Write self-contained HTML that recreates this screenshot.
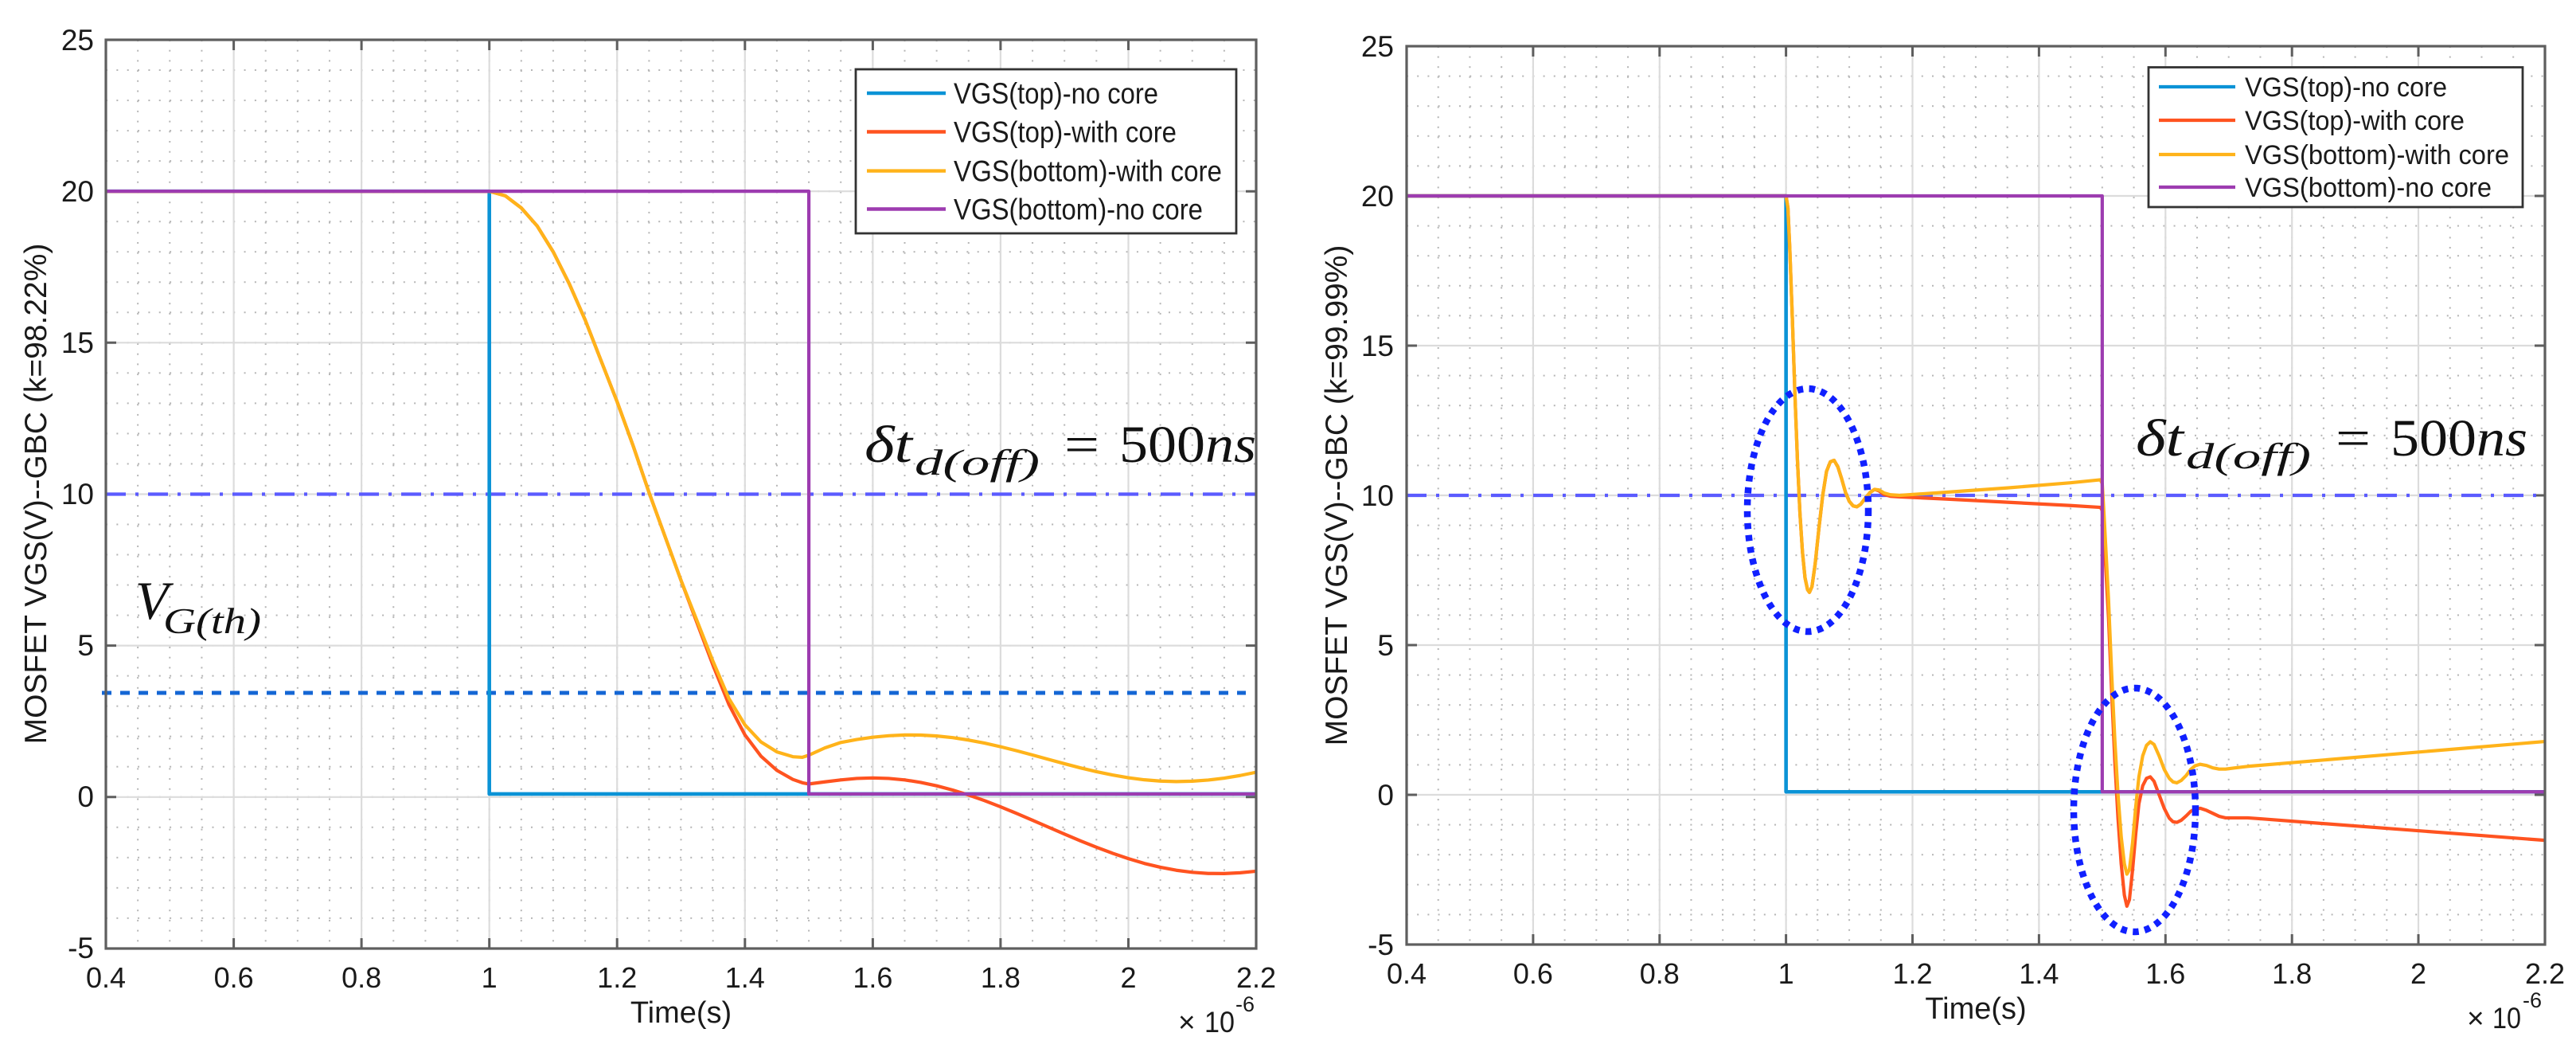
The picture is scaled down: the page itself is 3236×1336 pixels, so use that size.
<!DOCTYPE html>
<html><head><meta charset="utf-8"><style>
html,body{margin:0;padding:0;background:#fff;}
svg{display:block;}
text{font-family:"Liberation Sans",Arial,sans-serif;fill:#1a1a1a;}
.ser{font-family:"Liberation Serif","Times New Roman",serif;fill:#111;}
</style></head><body>
<svg width="3236" height="1336" viewBox="0 0 3236 1336" xmlns="http://www.w3.org/2000/svg">
<defs>
<pattern id="lv" x="132" y="50" width="40.14" height="12.7" patternUnits="userSpaceOnUse"><rect x="0" y="0" width="2" height="2" fill="#b5b5b5"/></pattern>
<pattern id="lh" x="133" y="49" width="13.35" height="38.03" patternUnits="userSpaceOnUse"><rect x="0" y="0" width="2" height="2" fill="#b5b5b5"/></pattern>
<pattern id="rv" x="1766" y="58" width="39.72" height="12.6" patternUnits="userSpaceOnUse"><rect x="0" y="0" width="2" height="2" fill="#b5b5b5"/></pattern>
<pattern id="rh" x="1767" y="57" width="13.2" height="37.6" patternUnits="userSpaceOnUse"><rect x="0" y="0" width="2" height="2" fill="#b5b5b5"/></pattern>
<clipPath id="cl"><rect x="133" y="50" width="1445" height="1141"/></clipPath>
<clipPath id="cr"><rect x="1767" y="58" width="1430" height="1128"/></clipPath>
</defs>
<rect width="3236" height="1336" fill="#fff"/>

<!-- ============ LEFT PLOT ============ -->
<rect x="133" y="50" width="1445" height="1141" fill="url(#lv)"/>
<rect x="133" y="50" width="1445" height="1141" fill="url(#lh)"/>
<g stroke="#dcdcdc" stroke-width="2.2">
<line x1="293.6" y1="50" x2="293.6" y2="1191"/><line x1="454.1" y1="50" x2="454.1" y2="1191"/><line x1="614.7" y1="50" x2="614.7" y2="1191"/><line x1="775.2" y1="50" x2="775.2" y2="1191"/><line x1="935.8" y1="50" x2="935.8" y2="1191"/><line x1="1096.4" y1="50" x2="1096.4" y2="1191"/><line x1="1256.9" y1="50" x2="1256.9" y2="1191"/><line x1="1417.5" y1="50" x2="1417.5" y2="1191"/>
<line x1="133" y1="240.2" x2="1578" y2="240.2"/><line x1="133" y1="430.3" x2="1578" y2="430.3"/><line x1="133" y1="620.5" x2="1578" y2="620.5"/><line x1="133" y1="810.6" x2="1578" y2="810.6"/><line x1="133" y1="1000.8" x2="1578" y2="1000.8"/>
</g>
<g stroke="#5e5e5e" stroke-width="3">
<path d="M293.6,50v13M454.1,50v13M614.7,50v13M775.2,50v13M935.8,50v13M1096.4,50v13M1256.9,50v13M1417.5,50v13"/>
<path d="M293.6,1191v-13M454.1,1191v-13M614.7,1191v-13M775.2,1191v-13M935.8,1191v-13M1096.4,1191v-13M1256.9,1191v-13M1417.5,1191v-13"/>
<path d="M133,240.2h13M133,430.3h13M133,620.5h13M133,810.6h13M133,1000.8h13"/>
<path d="M1578,240.2h-13M1578,430.3h-13M1578,620.5h-13M1578,810.6h-13M1578,1000.8h-13"/>
</g>
<line x1="133" y1="620.5" x2="1578" y2="620.5" stroke="#5b5bff" stroke-width="4.2" stroke-dasharray="25 12 4 12"/>
<line x1="128" y1="870" x2="1565" y2="870" stroke="#1466d4" stroke-width="5" stroke-dasharray="12 11"/>
<g clip-path="url(#cl)">
<g transform="matrix(802.8 0 0 -38.03 -188.12 1000.75)" fill="none" stroke-linejoin="round" stroke-linecap="round">
<polyline vector-effect="non-scaling-stroke" stroke="#0b93d6" stroke-width="4.6" points="0.4,20 1,20 1,0.1 2.2,0.1"/>
<polyline vector-effect="non-scaling-stroke" stroke="#ff5320" stroke-width="4.2" points="0.4,20 1,20 1.025,19.85 1.05,19.45 1.075,18.85 1.1,18 1.125,16.95 1.15,15.75 1.175,14.4 1.2,13.05 1.225,11.6 1.25,10.05 1.275,8.6 1.3,7.15 1.325,5.75 1.35,4.35 1.375,3.05 1.4,2.05 1.425,1.35 1.45,0.88 1.475,0.58 1.49,0.47 1.5,0.43 1.525,0.5 1.55,0.564 1.575,0.613 1.6,0.63 1.625,0.613 1.65,0.564 1.675,0.482 1.7,0.37 1.725,0.23 1.75,0.066 1.775,-0.12 1.8,-0.324 1.825,-0.541 1.85,-0.767 1.875,-0.996 1.9,-1.224 1.925,-1.447 1.95,-1.659 1.975,-1.856 2,-2.034 2.025,-2.193 2.05,-2.318 2.075,-2.419 2.1,-2.487 2.125,-2.524 2.15,-2.527 2.175,-2.501 2.2,-2.45"/>
<polyline vector-effect="non-scaling-stroke" stroke="#ffb31a" stroke-width="4.2" points="0.4,20 1,20 1.025,19.85 1.05,19.45 1.075,18.85 1.1,18 1.125,16.95 1.15,15.75 1.175,14.4 1.2,13.05 1.225,11.6 1.25,10.05 1.275,8.6 1.3,7.15 1.325,5.82 1.35,4.48 1.375,3.25 1.4,2.38 1.425,1.82 1.45,1.49 1.475,1.33 1.49,1.31 1.5,1.38 1.525,1.62 1.55,1.8 1.575,1.897 1.6,1.973 1.625,2.023 1.65,2.048 1.675,2.045 1.7,2.015 1.725,1.96 1.75,1.88 1.775,1.779 1.8,1.66 1.825,1.528 1.85,1.387 1.875,1.242 1.9,1.099 1.925,0.962 1.95,0.836 1.975,0.727 2,0.637 2.025,0.568 2.05,0.526 2.075,0.51 2.1,0.522 2.125,0.56 2.15,0.623 2.175,0.71 2.2,0.818"/>
<polyline vector-effect="non-scaling-stroke" stroke="#9d3cb0" stroke-width="4.2" points="0.4,20 1.5,20 1.5,0.1 2.2,0.1"/>
</g>
</g>
<rect x="133" y="50" width="1445" height="1141" fill="none" stroke="#5e5e5e" stroke-width="3.2"/>
<rect x="1075" y="87" width="478" height="206" fill="#fff" stroke="#333" stroke-width="2.8"/>
<g stroke-width="4.4">
<line x1="1089" y1="117" x2="1188" y2="117" stroke="#0b93d6"/>
<line x1="1089" y1="165.5" x2="1188" y2="165.5" stroke="#ff5320"/>
<line x1="1089" y1="214.6" x2="1188" y2="214.6" stroke="#ffb31a"/>
<line x1="1089" y1="262.5" x2="1188" y2="262.5" stroke="#9d3cb0"/>
</g>
<g font-size="37">
<text x="1198" y="130" textLength="257" lengthAdjust="spacingAndGlyphs">VGS(top)-no core</text>
<text x="1198" y="178.5" textLength="280" lengthAdjust="spacingAndGlyphs">VGS(top)-with core</text>
<text x="1198" y="227.5" textLength="337" lengthAdjust="spacingAndGlyphs">VGS(bottom)-with core</text>
<text x="1198" y="275.5" textLength="313" lengthAdjust="spacingAndGlyphs">VGS(bottom)-no core</text>
</g>
<g font-size="37" text-anchor="end">
<text x="118" y="63">25</text><text x="118" y="253">20</text><text x="118" y="443">15</text><text x="118" y="633">10</text><text x="118" y="823">5</text><text x="118" y="1013">0</text><text x="118" y="1203">-5</text>
</g>
<g font-size="36" text-anchor="middle">
<text x="133" y="1240">0.4</text><text x="293.6" y="1240">0.6</text><text x="454.1" y="1240">0.8</text><text x="614.7" y="1240">1</text><text x="775.2" y="1240">1.2</text><text x="935.8" y="1240">1.4</text><text x="1096.4" y="1240">1.6</text><text x="1256.9" y="1240">1.8</text><text x="1417.5" y="1240">2</text><text x="1578" y="1240">2.2</text>
</g>
<text x="855.5" y="1284" font-size="38" text-anchor="middle">Time(s)</text>
<text x="1480" y="1296" font-size="37" fill="#666">×</text>
<text x="1513" y="1296" font-size="37" textLength="38" lengthAdjust="spacingAndGlyphs">10</text>
<text x="1552" y="1270" font-size="27">-6</text>
<text transform="translate(58,620) rotate(-90)" font-size="39" text-anchor="middle">MOSFET VGS(V)--GBC (k=98.22%)</text>
<text class="ser" x="1086" y="580" font-size="66" font-style="italic" textLength="60" lengthAdjust="spacingAndGlyphs">δt</text>
<text class="ser" x="1149" y="596" font-size="45" font-style="italic" textLength="157" lengthAdjust="spacingAndGlyphs">d(off)</text>
<text class="ser" x="1337" y="580" font-size="66" textLength="44" lengthAdjust="spacingAndGlyphs">=</text>
<text class="ser" x="1406" y="580" font-size="66" textLength="172" lengthAdjust="spacingAndGlyphs">500<tspan font-style="italic">ns</tspan></text>
<text class="ser" x="170" y="777" font-size="68" font-style="italic">V</text>
<text class="ser" x="205" y="795" font-size="45" font-style="italic" textLength="123" lengthAdjust="spacingAndGlyphs">G(th)</text>

<!-- ============ RIGHT PLOT ============ -->
<rect x="1767" y="58" width="1430" height="1128" fill="url(#rv)"/>
<rect x="1767" y="58" width="1430" height="1128" fill="url(#rh)"/>
<g stroke="#dcdcdc" stroke-width="2.2">
<line x1="1925.9" y1="58" x2="1925.9" y2="1186"/><line x1="2084.8" y1="58" x2="2084.8" y2="1186"/><line x1="2243.6" y1="58" x2="2243.6" y2="1186"/><line x1="2402.5" y1="58" x2="2402.5" y2="1186"/><line x1="2561.4" y1="58" x2="2561.4" y2="1186"/><line x1="2720.3" y1="58" x2="2720.3" y2="1186"/><line x1="2879.2" y1="58" x2="2879.2" y2="1186"/><line x1="3038" y1="58" x2="3038" y2="1186"/>
<line x1="1767" y1="246" x2="3197" y2="246"/><line x1="1767" y1="434" x2="3197" y2="434"/><line x1="1767" y1="622" x2="3197" y2="622"/><line x1="1767" y1="810" x2="3197" y2="810"/><line x1="1767" y1="998" x2="3197" y2="998"/>
</g>
<g stroke="#5e5e5e" stroke-width="3">
<path d="M1925.9,58v13M2084.8,58v13M2243.6,58v13M2402.5,58v13M2561.4,58v13M2720.3,58v13M2879.2,58v13M3038,58v13"/>
<path d="M1925.9,1186v-13M2084.8,1186v-13M2243.6,1186v-13M2402.5,1186v-13M2561.4,1186v-13M2720.3,1186v-13M2879.2,1186v-13M3038,1186v-13"/>
<path d="M1767,246h13M1767,434h13M1767,622h13M1767,810h13M1767,998h13"/>
<path d="M3197,246h-13M3197,434h-13M3197,622h-13M3197,810h-13M3197,998h-13"/>
</g>
<line x1="1767" y1="622" x2="3197" y2="622" stroke="#5b5bff" stroke-width="4.2" stroke-dasharray="25 12 4 12"/>
<g clip-path="url(#cr)">
<g transform="matrix(794.4 0 0 -37.6 1449.24 998)" fill="none" stroke-linejoin="round" stroke-linecap="round">
<polyline vector-effect="non-scaling-stroke" stroke="#0b93d6" stroke-width="4.6" points="0.4,20 1,20 1,0.1 2.2,0.1"/>
<polyline vector-effect="non-scaling-stroke" stroke="#ff5320" stroke-width="4.2" points="0.4,20 1,20 1.003,19.6 1.006,18.2 1.01,15.9 1.014,13.4 1.018,11.2 1.022,9.4 1.026,8.1 1.03,7.25 1.034,6.85 1.037,6.76 1.041,6.95 1.046,7.7 1.052,8.9 1.058,10 1.064,10.8 1.07,11.12 1.076,11.17 1.082,10.95 1.088,10.55 1.094,10.1 1.1,9.8 1.106,9.65 1.112,9.62 1.118,9.7 1.125,9.9 1.133,10.1 1.14,10.2 1.147,10.15 1.155,10.03 1.165,9.97 1.18,9.95 1.25,9.88 1.35,9.77 1.45,9.66 1.497,9.6 1.5,9.5 1.503,8.6 1.51,5.9 1.515,3.4 1.52,1.1 1.525,-0.8 1.53,-2.3 1.535,-3.35 1.539,-3.72 1.543,-3.5 1.548,-2.5 1.553,-1.3 1.558,-0.3 1.564,0.3 1.57,0.55 1.576,0.6 1.582,0.45 1.59,0 1.598,-0.45 1.606,-0.78 1.612,-0.9 1.618,-0.92 1.625,-0.85 1.633,-0.7 1.64,-0.55 1.647,-0.47 1.655,-0.45 1.665,-0.52 1.675,-0.62 1.685,-0.72 1.695,-0.77 1.73,-0.77 1.75,-0.8 2.2,-1.52"/>
<polyline vector-effect="non-scaling-stroke" stroke="#ffb31a" stroke-width="4.2" points="0.4,20 1,20 1.003,19.6 1.006,18.2 1.01,15.9 1.014,13.4 1.018,11.2 1.022,9.4 1.026,8.1 1.03,7.25 1.034,6.85 1.037,6.76 1.041,6.95 1.046,7.7 1.052,8.9 1.058,10 1.064,10.8 1.07,11.12 1.076,11.17 1.082,10.95 1.088,10.55 1.094,10.1 1.1,9.8 1.106,9.65 1.112,9.62 1.118,9.7 1.125,9.9 1.133,10.1 1.14,10.2 1.147,10.18 1.155,10.08 1.165,10.02 1.18,10 1.25,10.1 1.35,10.25 1.45,10.42 1.497,10.52 1.5,10.4 1.503,9.3 1.51,6.5 1.515,4 1.52,1.8 1.525,0 1.53,-1.4 1.535,-2.3 1.539,-2.65 1.543,-2.5 1.548,-1.6 1.553,-0.4 1.558,0.6 1.564,1.3 1.57,1.65 1.576,1.77 1.582,1.68 1.59,1.3 1.598,0.85 1.606,0.55 1.612,0.43 1.618,0.4 1.625,0.48 1.633,0.65 1.64,0.85 1.647,0.97 1.655,1.02 1.665,0.98 1.675,0.9 1.685,0.86 1.695,0.86 1.71,0.9 1.73,0.95 2.2,1.78"/>
<polyline vector-effect="non-scaling-stroke" stroke="#9d3cb0" stroke-width="4.2" points="0.4,20 1.5,20 1.5,0.1 2.2,0.1"/>
</g>
</g>
<rect x="1767" y="58" width="1430" height="1128" fill="none" stroke="#5e5e5e" stroke-width="3.2"/>
<ellipse cx="2271" cy="640.5" rx="76" ry="152.5" fill="none" stroke="#1020ff" stroke-width="8.5" stroke-dasharray="7.5 7.5"/>
<ellipse cx="2681.5" cy="1017" rx="76.5" ry="153" fill="none" stroke="#1020ff" stroke-width="8.5" stroke-dasharray="7.5 7.5"/>
<rect x="2699" y="84.5" width="470" height="175.5" fill="#fff" stroke="#333" stroke-width="2.8"/>
<g stroke-width="4.2">
<line x1="2712" y1="109" x2="2808" y2="109" stroke="#0b93d6"/>
<line x1="2712" y1="151" x2="2808" y2="151" stroke="#ff5320"/>
<line x1="2712" y1="194" x2="2808" y2="194" stroke="#ffb31a"/>
<line x1="2712" y1="235" x2="2808" y2="235" stroke="#9d3cb0"/>
</g>
<g font-size="34">
<text x="2820" y="121" textLength="254" lengthAdjust="spacingAndGlyphs">VGS(top)-no core</text>
<text x="2820" y="163" textLength="276" lengthAdjust="spacingAndGlyphs">VGS(top)-with core</text>
<text x="2820" y="206" textLength="332" lengthAdjust="spacingAndGlyphs">VGS(bottom)-with core</text>
<text x="2820" y="247" textLength="310" lengthAdjust="spacingAndGlyphs">VGS(bottom)-no core</text>
</g>
<g font-size="37" text-anchor="end">
<text x="1751" y="71">25</text><text x="1751" y="259">20</text><text x="1751" y="447">15</text><text x="1751" y="635">10</text><text x="1751" y="823">5</text><text x="1751" y="1011">0</text><text x="1751" y="1199">-5</text>
</g>
<g font-size="36" text-anchor="middle">
<text x="1767" y="1235">0.4</text><text x="1925.9" y="1235">0.6</text><text x="2084.8" y="1235">0.8</text><text x="2243.6" y="1235">1</text><text x="2402.5" y="1235">1.2</text><text x="2561.4" y="1235">1.4</text><text x="2720.3" y="1235">1.6</text><text x="2879.2" y="1235">1.8</text><text x="3038" y="1235">2</text><text x="3197" y="1235">2.2</text>
</g>
<text x="2482" y="1279" font-size="38" text-anchor="middle">Time(s)</text>
<text x="3099" y="1291" font-size="37" fill="#666">×</text>
<text x="3131" y="1291" font-size="37" textLength="36" lengthAdjust="spacingAndGlyphs">10</text>
<text x="3169" y="1265" font-size="27">-6</text>
<text transform="translate(1692,622) rotate(-90)" font-size="39" text-anchor="middle">MOSFET VGS(V)--GBC (k=99.99%)</text>
<text class="ser" x="2683" y="572" font-size="66" font-style="italic" textLength="60" lengthAdjust="spacingAndGlyphs">δt</text>
<text class="ser" x="2746" y="588" font-size="45" font-style="italic" textLength="157" lengthAdjust="spacingAndGlyphs">d(off)</text>
<text class="ser" x="2934" y="572" font-size="66" textLength="44" lengthAdjust="spacingAndGlyphs">=</text>
<text class="ser" x="3003" y="572" font-size="66" textLength="172" lengthAdjust="spacingAndGlyphs">500<tspan font-style="italic">ns</tspan></text>
</svg>
</body></html>
